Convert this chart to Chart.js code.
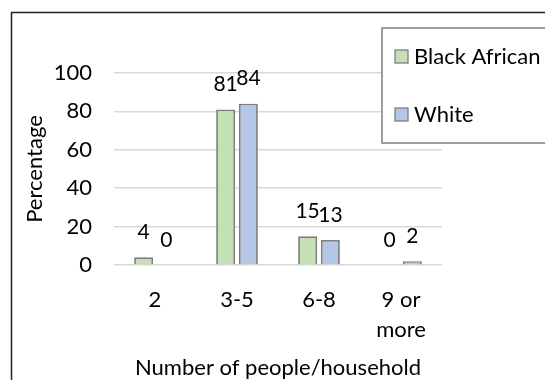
<!DOCTYPE html>
<html>
<head>
<meta charset="utf-8">
<script src="https://cdn.jsdelivr.net/npm/chart.js@4/dist/chart.umd.min.js"></script>
<style>
  body { margin: 0; background: #fff; }
  canvas { display: block; }
</style>
</head>
<body>
<canvas id="householdChart" width="545" height="380"></canvas>
<script>
const categories = ['2', '3-5', '6-8', ['9 or', 'more']];
const blackAfrican = [4, 81, 15, 0];
const white = [0, 84, 13, 2];
const seriesNames = ['Black African', 'White'];
const yMin = 0;
const yMax = 100;
const yStep = 20;

const FONT = 'Lato, "Open Sans", sans-serif';
const TEXT = '#000';

// value labels above each bar
const valueLabels = {
    id: 'valueLabels',
    afterDatasetsDraw(chart) {
        const ctx = chart.ctx;
        ctx.save();
        ctx.font = '21px ' + FONT;
        ctx.fillStyle = TEXT;
        ctx.textAlign = 'center';
        ctx.textBaseline = 'middle';
        chart.data.datasets.forEach((ds, i) => {
            chart.getDatasetMeta(i).data.forEach((bar, j) => {
                ctx.fillText(String(ds.data[j]), bar.x, bar.y - 25);
            });
        });
        ctx.restore();
    }
};

// outer frame + boxed legend
const frameAndLegend = {
    id: 'frameAndLegend',
    afterDraw(chart) {
        const ctx = chart.ctx;
        ctx.save();
        ctx.strokeStyle = '#222';
        ctx.lineWidth = 1.5;
        ctx.strokeRect(11.5, 12.5, 700, 500);

        ctx.fillStyle = '#fff';
        ctx.fillRect(382, 28, 400, 115);
        ctx.strokeStyle = '#7f7f7f';
        ctx.lineWidth = 1.5;
        ctx.strokeRect(382, 28, 400, 115);

        ctx.font = '22px ' + FONT;
        ctx.textAlign = 'left';
        ctx.textBaseline = 'middle';
        chart.data.datasets.forEach((ds, i) => {
            const cy = 57 + i * 58;
            ctx.fillStyle = ds.backgroundColor;
            ctx.fillRect(395, cy - 7, 13, 13);
            ctx.strokeStyle = ds.borderColor;
            ctx.lineWidth = 1.3;
            ctx.strokeRect(395, cy - 7, 13, 13);
            ctx.fillStyle = TEXT;
            ctx.fillText(ds.label, 414, cy);
        });
        ctx.restore();
    }
};

new Chart(document.getElementById('householdChart'), {
    type: 'bar',
    data: {
        labels: categories,
        datasets: [{
            label: seriesNames[0],
            data: blackAfrican,
            backgroundColor: '#c5e0b4',
            borderColor: '#7f7f7f',
            borderWidth: 1.8
        }, {
            label: seriesNames[1],
            data: white,
            backgroundColor: '#b4c7e7',
            borderColor: '#7f7f7f',
            borderWidth: 1.8
        }]
    },
    options: {
        responsive: false,
        animation: false,
        categoryPercentage: 0.556,
        barPercentage: 0.83,
        layout: { padding: { top: 73, right: 103, left: 0, bottom: 0 } },
        plugins: {
            legend: { display: false },
            tooltip: { enabled: false }
        },
        scales: {
            x: {
                afterFit(scale) { scale.height = 115; },
                grid: { display: false },
                border: { display: false },
                ticks: {
                    color: TEXT,
                    font: { family: FONT, size: 22, lineHeight: 1.36 },
                    padding: 12,
                    maxRotation: 0
                },
                title: {
                    display: true,
                    text: 'Number of people/household',
                    color: TEXT,
                    font: { family: FONT, size: 22, lineHeight: 1.2 },
                    padding: { top: 0, bottom: -1 }
                }
            },
            y: {
                min: yMin,
                max: yMax,
                afterFit(scale) { scale.width = 114; },
                grid: { color: '#d9d9d9', lineWidth: 1.5, drawTicks: false },
                border: { display: false },
                ticks: {
                    stepSize: yStep,
                    color: TEXT,
                    font: { family: FONT, size: 22 },
                    padding: 22
                },
                title: {
                    display: true,
                    text: 'Percentage',
                    color: TEXT,
                    font: { family: FONT, size: 22, lineHeight: 1.2 },
                    padding: { top: 22, bottom: 0 }
                }
            }
        }
    },
    plugins: [valueLabels, frameAndLegend]
});
</script>
</body>
</html>
